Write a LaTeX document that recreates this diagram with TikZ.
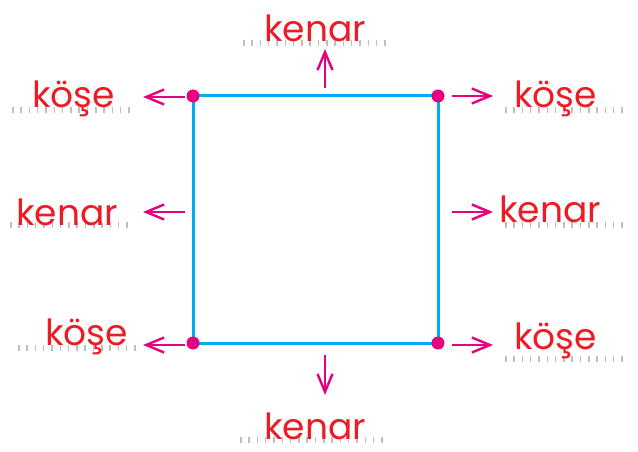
\documentclass[tikz,border=0pt]{standalone}
\usepackage{fontspec}
\setmainfont{Poppins}
\usetikzlibrary{arrows.meta}
\definecolor{wordred}{RGB}{237,28,36}
\definecolor{arrowpink}{RGB}{230,0,126}
\definecolor{squareblue}{RGB}{0,174,239}
\definecolor{guidegray}{RGB}{190,190,190}

\begin{document}
\begin{tikzpicture}[
    x=1pt, y=-1pt,
    word/.style={text=wordred, font=\fontsize{36}{36}\selectfont, anchor=base west, inner sep=0pt},
    guide/.style={draw=guidegray, line width=6pt, dash pattern=on 1.5pt off 6.8pt},
    arr/.style={draw=arrowpink, line width=2.4pt, -{Straight Barb[length=18pt, width=15pt]}},
    corner/.style={circle, fill=arrowpink, inner sep=0pt, minimum size=13pt},
    side/.style={draw=squareblue, line width=3pt}
  ]
  \useasboundingbox (0,0) rectangle (638,452);

  % Writing guides
  \draw[guide] (12,110)  -- (130,110);
  \draw[guide] (10,225)  -- (130,225);
  \draw[guide] (18,348)  -- (137,348);
  \draw[guide] (505,110) -- (623,110);
  \draw[guide] (505,225) -- (625,225);
  \draw[guide] (505,359) -- (623,359);
  \draw[guide] (243,43)  -- (392,43);
  \draw[guide] (240,440) -- (387,440);

  % Square
  \coordinate (tl) at (193,96);
  \coordinate (tr) at (438,96);
  \coordinate (br) at (438,343);
  \coordinate (bl) at (193,343);
  \draw[side] (tl) -- (tr) -- (br) -- (bl) -- cycle;
  \foreach \c in {tl,tr,br,bl}
    \node[corner] (dot-\c) at (\c) {};

  % Words
  \node[word] (w-tl) at (32,108)  {köşe};
  \node[word] (w-l)  at (16,225)  {kenar};
  \node[word] (w-bl) at (45,345)  {köşe};
  \node[word] (w-tr) at (514,107) {köşe};
  \node[word] (w-r)  at (499,222) {kenar};
  \node[word] (w-br) at (514,349) {köşe};
  \node[word] (w-t)  at (264,42)  {kenar};
  \node[word] (w-b)  at (264,439) {kenar};

  % Arrows
  \draw[arr] (tl) ++(-8,1)   -- ++(-42,0);
  \draw[arr] (tl) ++(-8,116) -- ++(-42,0);
  \draw[arr] (bl) ++(-8,2)   -- ++(-42,0);
  \draw[arr] (tr) ++(14,0)   -- ++(41,0);
  \draw[arr] (tr) ++(14,116) -- ++(41,0);
  \draw[arr] (br) ++(14,2)   -- ++(41,0);
  \draw[arr] (tl) ++(132,-8) -- ++(0,-39);
  \draw[arr] (bl) ++(132,12) -- ++(0,40);
\end{tikzpicture}
\end{document}
